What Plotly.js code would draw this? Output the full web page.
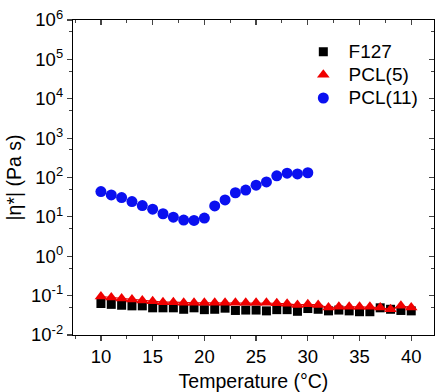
<!DOCTYPE html>
<html>
<head>
<meta charset="utf-8">
<script src="https://cdn.plot.ly/plotly-3.0.1.min.js"></script>
<style>html,body{margin:0;padding:0;background:#fff;}#chart{width:439px;height:392px;}</style>
</head>
<body>
<div id="chart"></div>
<script>
const tempF127 = [10,11,12,13,14,15,16,17,18,19,20,21,22,23,24,25,26,27,28,29,30,31,32,33,34,35,36,37,38,39,40];
const etaF127 = [0.063,0.060,0.057,0.055,0.055,0.049,0.049,0.049,0.045,0.049,0.044,0.045,0.048,0.042,0.043,0.043,0.041,0.044,0.044,0.040,0.047,0.045,0.041,0.043,0.041,0.039,0.039,0.049,0.045,0.042,0.041];
const tempPCL5 = [10,11,12,13,14,15,16,17,18,19,20,21,22,23,24,25,26,27,28,29,30,31,32,33,34,35,36,37,38,39,40];
const etaPCL5 = [0.095,0.090,0.085,0.080,0.075,0.072,0.068,0.068,0.066,0.066,0.066,0.066,0.066,0.066,0.066,0.066,0.066,0.064,0.062,0.058,0.060,0.058,0.050,0.052,0.052,0.052,0.052,0.050,0.045,0.055,0.050];
const tempPCL11 = [10,11,12,13,14,15,16,17,18,19,20,21,22,23,24,25,26,27,28,29,30];
const etaPCL11 = [44,36,31,24.5,19.4,15.7,12,9.8,8.3,8.1,9.3,19,27,41,48,64,77,110,129,123,132];
const seriesNames = ['F127', 'PCL(5)', 'PCL(11)'];
const yMajor = [0.01,0.1,1,10,100,1000,10000,100000,1000000];
const yTickText = ['10<sup>-2</sup>','10<sup>-1</sup>','10<sup>0</sup>','10<sup>1</sup>','10<sup>2</sup>','10<sup>3</sup>','10<sup>4</sup>','10<sup>5</sup>','10<sup>6</sup>'];
const yMinor = [0.05,0.5,5,50,500,5000,50000,500000];
const xMajor = [10,15,20,25,30,35,40];
const xMinor = [7.5,12.5,17.5,22.5,27.5,32.5,37.5,42.5];

const fam = 'Liberation Sans, Arial, sans-serif';
const tickFont = {family: fam, size: 18.5, color: '#000'};
const titleFont = {family: fam, size: 19.5, color: '#000'};
const legName = s => '<span style="font-size:19px">\u00a0' + s + '</span>';
const traces = [
  {x: tempF127, y: etaF127, mode: 'markers', name: legName(seriesNames[0]), type: 'scatter',
   marker: {symbol: 'square', size: 9, color: '#000'}},
  {x: tempPCL5, y: etaPCL5, mode: 'lines', showlegend: false, type: 'scatter', hoverinfo: 'skip',
   line: {color: '#e00000', width: 1.2}},
  {x: tempPCL5, y: etaPCL5, mode: 'markers', name: legName(seriesNames[1]), type: 'scatter',
   marker: {symbol: 'triangle-up', size: 11, color: '#f00000'}},
  {x: tempPCL11, y: etaPCL11, mode: 'markers', name: legName(seriesNames[2]), type: 'scatter',
   marker: {symbol: 'circle', size: 11, color: '#0a10f0'}},
  {x: [20], y: [1], xaxis: 'x2', yaxis: 'y2', mode: 'markers', showlegend: false, hoverinfo: 'skip',
   marker: {opacity: 0}}
];
const layout = {
  width: 439, height: 392,
  margin: {l: 73, r: 5, t: 20, b: 57},
  paper_bgcolor: '#fff', plot_bgcolor: '#fff',
  font: tickFont,
  showlegend: true,
  legend: {x: 0.638, y: 0.952, xanchor: 'left', yanchor: 'top', bgcolor: 'rgba(0,0,0,0)',
           font: {family: fam, size: 15.5, color: '#000'}, tracegroupgap: 0},
  xaxis: {range: [7.3, 42.2], tickmode: 'array', tickvals: xMajor, ticktext: xMajor.map(String),
          ticks: 'outside', ticklen: 5, tickwidth: 1.2, showline: true, linecolor: '#000', linewidth: 1.2,
          showgrid: false, zeroline: false, tickfont: tickFont,
          minor: {tickmode: 'array', tickvals: xMinor, ticks: 'outside', ticklen: 3, tickwidth: 1},
          title: {text: 'Temperature (°C)', font: titleFont, standoff: 8}},
  yaxis: {type: 'log', range: [-2, 6], tickmode: 'array', tickvals: yMajor, ticktext: yTickText,
          ticks: 'outside', ticklen: 5, tickwidth: 1.2, showline: true, linecolor: '#000', linewidth: 1.2,
          showgrid: false, zeroline: false, tickfont: tickFont,
          minor: {tickmode: 'array', tickvals: yMinor, ticks: 'outside', ticklen: 3, tickwidth: 1},
          title: {text: '|η*| (Pa s)', font: titleFont, standoff: 4}},
  xaxis2: {overlaying: 'x', side: 'top', range: [7.3, 42.2], tickmode: 'array', tickvals: xMajor,
           showticklabels: false, ticks: 'inside', ticklen: 5, tickwidth: 1.2, showline: true,
           linecolor: '#000', linewidth: 1.2, showgrid: false, zeroline: false,
           minor: {tickmode: 'array', tickvals: xMinor, ticks: 'inside', ticklen: 3, tickwidth: 1}},
  yaxis2: {overlaying: 'y', side: 'right', type: 'log', range: [-2, 6], tickmode: 'array', tickvals: yMajor,
           showticklabels: false, ticks: 'inside', ticklen: 5, tickwidth: 1.2, showline: true,
           linecolor: '#000', linewidth: 1.2, showgrid: false, zeroline: false,
           minor: {tickmode: 'array', tickvals: yMinor, ticks: 'inside', ticklen: 3, tickwidth: 1}}
};
Plotly.newPlot('chart', traces, layout, {displayModeBar: false, staticPlot: true});
</script>
</body>
</html>
